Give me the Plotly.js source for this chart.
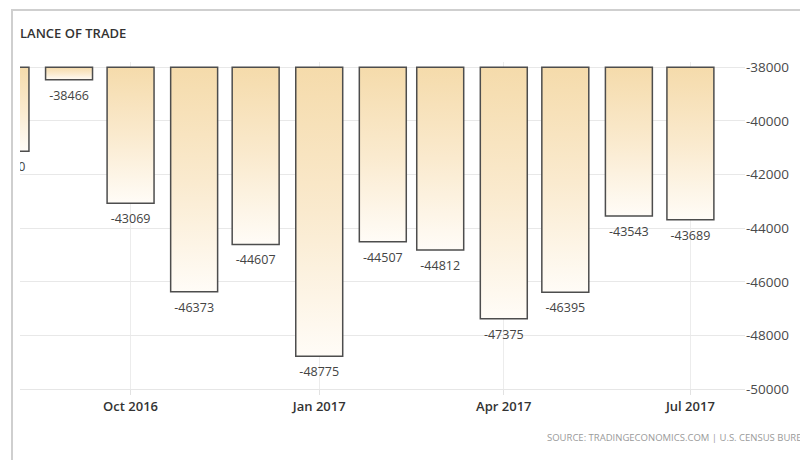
<!DOCTYPE html>
<html>
<head>
<meta charset="utf-8">
<script src="https://cdn.plot.ly/plotly-3.0.1.min.js"></script>
<style>
  html, body { margin: 0; padding: 0; background: #ffffff; }
  #wrap { position: relative; width: 800px; height: 460px; overflow: hidden; }
  #chart { position: absolute; left: 0; top: 0; width: 800px; height: 460px; }
  #frame { position: absolute; left: 11px; top: 9px; width: 800px; height: 460px;
           border-left: 2px solid #cfcfcf; border-top: 2px solid #cfcfcf; pointer-events: none; }
</style>
</head>
<body>
<div id="wrap">
  <div id="chart"></div>
  <div id="frame"></div>
</div>
<script>
// ---- data ----
const months = ['2016-08-01','2016-09-01','2016-10-01','2016-11-01','2016-12-01','2017-01-01',
                '2017-02-01','2017-03-01','2017-04-01','2017-05-01','2017-06-01','2017-07-01'];
const balance = [-41130, -38466, -43069, -46373, -44607, -48775,
                 -44507, -44812, -47375, -46395, -43543, -43689];
const yTickVals = [-38000, -40000, -42000, -44000, -46000, -48000, -50000];
const yTickText = yTickVals.map(String);
const xTickVals = ['2016-10-01', '2017-01-01', '2017-04-01', '2017-07-01'];
const xTickText = ['Oct 2016', 'Jan 2017', 'Apr 2017', 'Jul 2017'];
const baseLevel = -38000;
const titleText = 'LANCE OF TRADE';
const sourceText = 'SOURCE: TRADINGECONOMICS.COM | U.S. CENSUS BUREAU';

// ---- chart ----
const FONT = '"Open Sans", "Noto Sans", sans-serif';
const barWidthMs = 22.9 * 86400000;

const trace = {
  type: 'bar',
  x: months,
  y: balance.map(v => v - baseLevel),
  base: baseLevel,
  width: barWidthMs,
  text: balance.map(String),
  textposition: 'outside',
  constraintext: 'none',
  cliponaxis: true,
  textfont: { family: FONT, size: 12.5, color: '#444444' },
  marker: { color: '#f9e8c8', line: { color: '#4d4d4d', width: 1.5 } },
  hoverinfo: 'none'
};

const layout = {
  width: 800, height: 460,
  margin: { l: 20, r: 55, t: 62, b: 71 },
  paper_bgcolor: '#ffffff', plot_bgcolor: '#ffffff',
  showlegend: false,
  title: {
    text: titleText, xref: 'container', yref: 'container',
    x: 20 / 800, xanchor: 'left', y: 1 - 33 / 460, yanchor: 'middle',
    font: { family: FONT, size: 13, color: '#333333', weight: 600 }
  },
  xaxis: {
    type: 'date',
    range: ['2016-08-08 02:00', '2017-07-27 15:00'],
    tickmode: 'array', tickvals: xTickVals, ticktext: xTickText,
    showgrid: true, gridcolor: '#ececec', gridwidth: 1,
    ticks: 'outside', ticklen: 5, tickcolor: '#e2e2e2',
    tickfont: { family: FONT, size: 13, color: '#333333', weight: 600 },
    showline: true, linecolor: '#e6e6e6', linewidth: 1,
    zeroline: false, fixedrange: true
  },
  yaxis: {
    side: 'right',
    range: [-50000, -37800],
    tickmode: 'array', tickvals: yTickVals, ticktext: yTickText,
    showgrid: true, gridcolor: '#e8e8e8', gridwidth: 1,
    ticks: '', zeroline: false, showline: false,
    tickfont: { family: FONT, size: 13.5, color: '#4a4a4a' },
    fixedrange: true
  },
  annotations: [{
    text: sourceText, xref: 'paper', yref: 'paper',
    x: (545 - 20) / 725, xanchor: 'left',
    y: -(437 - 389) / 327, yanchor: 'middle',
    showarrow: false,
    font: { family: FONT, size: 9.5, color: '#9a9a9a' }
  }]
};

Plotly.newPlot('chart', [trace], layout, { staticPlot: true, displayModeBar: false }).then(gd => {
  // add a top-to-bottom gradient to every bar
  const svg = gd.querySelector('svg.main-svg');
  let defs = svg.querySelector('defs');
  const ns = 'http://www.w3.org/2000/svg';
  if (!defs) { defs = document.createElementNS(ns, 'defs'); svg.insertBefore(defs, svg.firstChild); }
  const grad = document.createElementNS(ns, 'linearGradient');
  grad.setAttribute('id', 'barGrad');
  grad.setAttribute('x1', '0'); grad.setAttribute('y1', '0');
  grad.setAttribute('x2', '0'); grad.setAttribute('y2', '1');
  [['0', '#f5dbab'], ['0.5', '#faeace'], ['1', '#fffcf7']].forEach(([o, c]) => {
    const s = document.createElementNS(ns, 'stop');
    s.setAttribute('offset', o); s.setAttribute('stop-color', c);
    grad.appendChild(s);
  });
  defs.appendChild(grad);
  gd.querySelectorAll('.trace.bars .point path').forEach(p => { p.style.fill = 'url(#barGrad)'; });
  // value labels sit a little lower under the bars, as in the reference
  gd.querySelectorAll('.trace.bars .point text').forEach(t => {
    const tr = t.getAttribute('transform') || '';
    t.setAttribute('transform', 'translate(0,4) ' + tr);
  });
});
</script>
</body>
</html>
